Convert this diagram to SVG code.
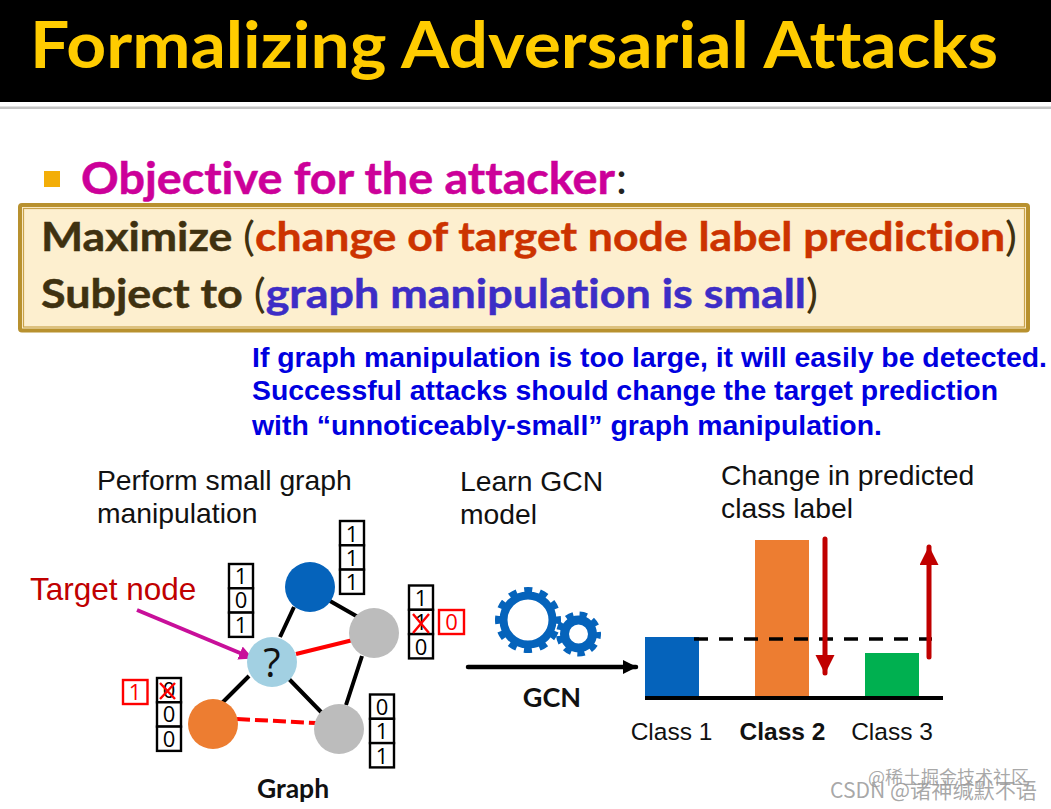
<svg xmlns="http://www.w3.org/2000/svg" width="1051" height="809" viewBox="0 0 1051 809">
<defs>
<marker id="mk" markerUnits="userSpaceOnUse" markerWidth="15" markerHeight="16" refX="13" refY="8" orient="auto"><path d="M0 1L14 8L0 15z" fill="#000"/></marker>
<marker id="mr" markerUnits="userSpaceOnUse" markerWidth="20" markerHeight="20" refX="18" refY="9.500" orient="auto"><path d="M0 0L19 9.500L0 19z" fill="#c00000"/></marker>
<marker id="mp" markerUnits="userSpaceOnUse" markerWidth="16" markerHeight="16" refX="13" refY="7" orient="auto"><path d="M0 0L14 7L0 14z" fill="#c80f9a"/></marker>
</defs>
<style>
.c{font-family:"Lato","Noto Sans",sans-serif;font-weight:700;font-variant-ligatures:none}
.n{font-weight:400;stroke-width:0}
.a{font-family:"Liberation Sans",Arial,sans-serif}
.b{font-family:"Liberation Sans",Arial,sans-serif;font-weight:700;font-size:27px;fill:#0000e0}
.l{font-size:28.300px;fill:#111}
.k{font-size:24.500px;fill:#111;text-anchor:middle}
.t{font-family:"Open Sans","Noto Sans",sans-serif;font-size:22px;fill:#000;text-anchor:middle}
.cell{fill:#fff;stroke:#000;stroke-width:2.400}
.rb{fill:#fff;stroke:#f00;stroke-width:2.400}
.e{stroke:#000;stroke-width:4;fill:none}
.x{stroke:#f00;stroke-width:2.400;fill:none}
.wm{font-family:"Noto Sans CJK SC","Noto Sans",sans-serif;fill:#999;fill-opacity:.85}
</style>
<rect width="1051" height="809" fill="#fff"/>
<g id="title">
<rect width="1051" height="102" fill="#000"/>
<rect y="106.500" width="1051" height="2.500" fill="#c4c4c4"/>
<text class="c" x="30" y="68" font-size="65" fill="#ffcc00" textLength="968" lengthAdjust="spacingAndGlyphs">Formalizing Adversarial Attacks</text>
</g>
<g id="objective">
<rect x="44" y="171" width="16" height="16" fill="#f3ae08"/>
<text class="c" x="81" y="194" font-size="44" fill="#cc0099" stroke="#cc0099" stroke-width=".5" textLength="534" lengthAdjust="spacingAndGlyphs">Objective for the attacker</text>
<text class="c n" x="616" y="194" font-size="44" fill="#222">:</text>
</g>
<g id="box">
<rect x="20" y="205" width="1008" height="125.500" rx="2" fill="#fdefcf" stroke="#b8912f" stroke-width="4"/>
<rect x="23.500" y="208.500" width="1001" height="118.500" fill="none" stroke="#c9a24a" stroke-width="1.200"/>
<text class="c" x="41" y="251" font-size="41" fill="#3f3110" stroke="#3f3110" stroke-width=".5" textLength="976" lengthAdjust="spacingAndGlyphs">Maximize <tspan class="n">(</tspan><tspan fill="#cc3300" stroke="#cc3300">change of target node label prediction</tspan><tspan class="n">)</tspan></text>
<text class="c" x="41" y="308" font-size="41" fill="#3f3110" stroke="#3f3110" stroke-width=".5" textLength="777" lengthAdjust="spacingAndGlyphs">Subject to <tspan class="n">(</tspan><tspan fill="#3d2dc6" stroke="#3d2dc6">graph manipulation is small</tspan><tspan class="n">)</tspan></text>
</g>
<g id="note">
<text class="b" x="252" y="367" textLength="795" lengthAdjust="spacingAndGlyphs">If graph manipulation is too large, it will easily be detected.</text>
<text class="b" x="252" y="400" textLength="746" lengthAdjust="spacingAndGlyphs">Successful attacks should change the target prediction</text>
<text class="b" x="252" y="435" textLength="630" lengthAdjust="spacingAndGlyphs">with “unnoticeably-small” graph manipulation.</text>
</g>
<g id="captions">
<text class="a l" x="97" y="490">Perform small graph</text>
<text class="a l" x="97" y="523">manipulation</text>
<text class="a l" x="460" y="491">Learn GCN</text>
<text class="a l" x="460" y="524">model</text>
<text class="a l" x="721" y="485">Change in predicted</text>
<text class="a l" x="721" y="518">class label</text>
<text class="a" x="30" y="600" font-size="31.500" fill="#c00000">Target node</text>
<text class="c" x="293" y="798" font-size="26.500" fill="#111" text-anchor="middle">Graph</text>
<text class="c" x="552" y="707" font-size="27" fill="#111" text-anchor="middle">GCN</text>
</g>
<g id="connectors">
<path class="e" d="M280 637L294 607M330 601L358 617M362 656L346 705M249 676L222 703M289 679L322 713"/>
<path d="M296 654L353 640" stroke="#f00" stroke-width="4" fill="none"/>
<path d="M237 719L316 723" stroke="#f00" stroke-width="4" stroke-dasharray="13 5" fill="none"/>
<path d="M137 610L252 658" stroke="#c80f9a" stroke-width="4" fill="none" marker-end="url(#mp)"/>
<path d="M468 667L636 667" stroke="#000" stroke-width="4.500" stroke-linecap="round" fill="none" marker-end="url(#mk)"/>
</g>
<g id="node-blue"><circle cx="310" cy="587" r="25" fill="#0563bb"/></g>
<g id="node-grey-right"><circle cx="374" cy="633" r="25" fill="#bcbcbc"/></g>
<g id="node-target"><circle cx="272" cy="662" r="25" fill="#a2d0e2"/><text x="272" y="677" font-family="Open Sans,Noto Sans,sans-serif" font-size="40" fill="#111" text-anchor="middle">?</text></g>
<g id="node-orange"><circle cx="213" cy="724" r="25" fill="#ed7d31"/></g>
<g id="node-grey-bottom"><circle cx="339" cy="729" r="25" fill="#bcbcbc"/></g>
<g id="features">
<g id="f-target"><rect class="cell" x="229" y="564" width="24" height="24.300"/><rect class="cell" x="229" y="588.300" width="24" height="24.300"/><rect class="cell" x="229" y="612.600" width="24" height="24.300"/><text class="t" x="241" y="584">1</text><text class="t" x="241" y="608">0</text><text class="t" x="241" y="633">1</text></g>
<g id="f-blue"><rect class="cell" x="340" y="521" width="24" height="24.300"/><rect class="cell" x="340" y="545.300" width="24" height="24.300"/><rect class="cell" x="340" y="569.600" width="24" height="24.300"/><text class="t" x="352" y="542">1</text><text class="t" x="352" y="566">1</text><text class="t" x="352" y="590">1</text></g>
<g id="f-right"><rect class="cell" x="409" y="585.500" width="24" height="24.300"/><rect class="cell" x="409" y="609.800" width="24" height="24.300"/><rect class="cell" x="409" y="634.100" width="24" height="24.300"/><text class="t" x="421" y="606">1</text><text class="t" x="421" y="630">1</text><text class="t" x="421" y="655">0</text><path class="x" d="M413 614L429 633M429 614L413 633"/><rect class="rb" x="439" y="610" width="25" height="24"/><text class="t" x="451.500" y="630" style="fill:#f00">0</text></g>
<g id="f-orange"><rect class="cell" x="157" y="678" width="24" height="24.300"/><rect class="cell" x="157" y="702.300" width="24" height="24.300"/><rect class="cell" x="157" y="726.600" width="24" height="24.300"/><text class="t" x="169" y="698">0</text><text class="t" x="169" y="722">0</text><text class="t" x="169" y="747">0</text><path class="x" d="M160 683L175 699M175 683L160 699"/><rect class="rb" x="123" y="680" width="24.500" height="24"/><text class="t" x="135" y="700" style="fill:#f00">1</text></g>
<g id="f-bottom"><rect class="cell" x="370" y="694.500" width="24" height="24.300"/><rect class="cell" x="370" y="718.800" width="24" height="24.300"/><rect class="cell" x="370" y="743.100" width="24" height="24.300"/><text class="t" x="382" y="715">0</text><text class="t" x="382" y="739">1</text><text class="t" x="382" y="764">1</text></g>
</g>
<g id="gears" fill="none" stroke="#0563bb">
<circle cx="528" cy="620" r="24.500" stroke-width="8"/>
<circle cx="528" cy="620" r="30" stroke-width="6" stroke-dasharray="8 7.708" stroke-dashoffset="4"/>
<circle cx="578.500" cy="634" r="14" stroke-width="9"/>
<circle cx="578.500" cy="634" r="20" stroke-width="5" stroke-dasharray="7.500 6.463" stroke-dashoffset="3"/>
</g>
<g id="chart">
<rect x="645" y="637" width="54" height="61" fill="#0563bb"/>
<rect x="755" y="540" width="54" height="158" fill="#ed7d31"/>
<rect x="865" y="653" width="54" height="45" fill="#00b050"/>
<path d="M645 698L943 698" stroke="#000" stroke-width="4" fill="none"/>
<path d="M694 639L932 639" stroke="#000" stroke-width="3.500" stroke-dasharray="14 11" fill="none"/>
<path d="M825 539L825 673" stroke="#c00000" stroke-width="5" stroke-linecap="round" fill="none" marker-end="url(#mr)"/>
<path d="M929 657L929 547" stroke="#c00000" stroke-width="5" stroke-linecap="round" fill="none" marker-end="url(#mr)"/>
<text class="a k" x="671.500" y="740">Class 1</text>
<text class="a k" x="782.500" y="740" style="font-weight:700">Class 2</text>
<text class="a k" x="892" y="740">Class 3</text>
</g>
<g id="watermark">
<text class="wm" x="868" y="784" font-size="18">@稀土掘金技术社区</text>
<text class="wm" x="830" y="798" font-size="21" textLength="207" lengthAdjust="spacingAndGlyphs">CSDN @诸神缄默不语</text>
</g>
</svg>
